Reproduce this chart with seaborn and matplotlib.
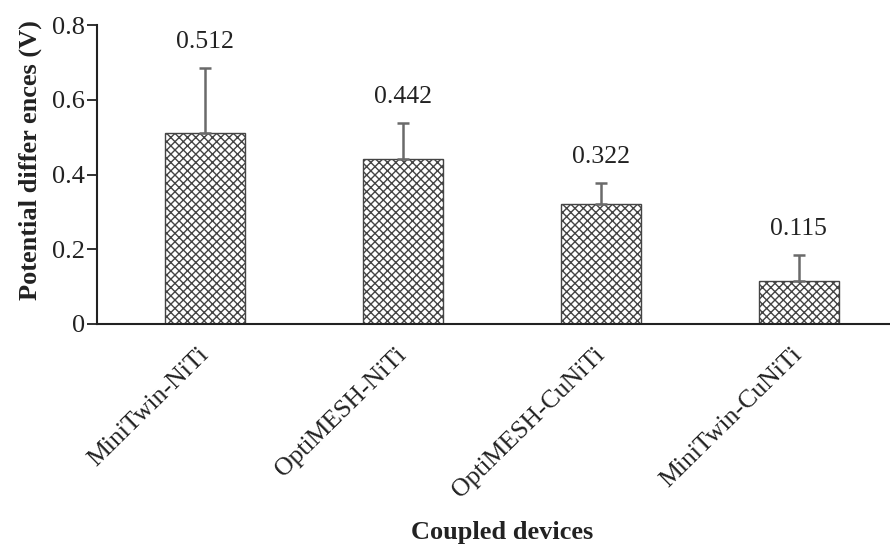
import matplotlib
matplotlib.use("Agg")
import matplotlib.pyplot as plt
import seaborn as sns
import pandas as pd
import numpy as np

categories = ["MiniTwin-NiTi", "OptiMESH-NiTi", "OptiMESH-CuNiTi", "MiniTwin-CuNiTi"]
values = [0.512, 0.442, 0.322, 0.115]
errors = [0.173, 0.096, 0.055, 0.070]
labels = ["0.512", "0.442", "0.322", "0.115"]

sns.set_theme(style="white")
plt.rcParams['font.family'] = ['Liberation Serif', 'DejaVu Serif']
plt.rcParams['hatch.color'] = '#555555'
plt.rcParams['hatch.linewidth'] = 1.0

df = pd.DataFrame({"device": categories, "value": values})

fig = plt.figure(figsize=(8.9, 5.46), dpi=100)
ax = fig.add_axes([0.109, 0.4066, 0.891, 0.5476])

sns.barplot(data=df, x="device", y="value", color="white", width=0.4,
            edgecolor="#444444", linewidth=1.0, ax=ax, errorbar=None)
for p in ax.patches:
    p.set_hatch("xxxx")

x = np.arange(len(categories))
ax.errorbar(x, values, yerr=[np.zeros(len(errors)), errors], fmt="none",
            ecolor="#6a6a6a", elinewidth=1.8, capsize=4, capthick=1.8)

for xi, v, e, lab in zip(x, values, errors, labels):
    ax.text(xi, v + e + 0.04, lab, ha="center", va="bottom", fontsize=18.5, color="#222222")

ax.set_ylim(0, 0.8)
ax.set_xlim(-0.545, 3.46)
ax.set_yticks([0, 0.2, 0.4, 0.6, 0.8])
ax.set_yticklabels(["0", "0.2", "0.4", "0.6", "0.8"], fontsize=19, color="#222222")
ax.set_xticks(x)
ax.set_xticklabels(categories, rotation=44.5, ha="right", va="center",
                   rotation_mode="anchor", fontsize=18.5, color="#222222")
ax.tick_params(axis="y", direction="out", length=7, width=1.3, color="#222222", left=True, pad=1.5)
ax.tick_params(axis="x", length=0, pad=20)

for s in ["top", "right"]:
    ax.spines[s].set_visible(False)
for s in ["left", "bottom"]:
    ax.spines[s].set_color("#222222")
    ax.spines[s].set_linewidth(1.5)

ax.set_ylabel("")
ax.set_xlabel("")
fig.text(30 / 890, 1 - 160 / 546, "Potential differ ences (V)", rotation=90, ha="center", va="center",
         fontsize=19, fontweight="bold", color="#222222")
fig.text(0.564, 1 - 539 / 546, "Coupled devices", ha="center", va="baseline", fontsize=19,
         fontweight="bold", color="#222222")

fig.savefig("out.png", dpi=100)
